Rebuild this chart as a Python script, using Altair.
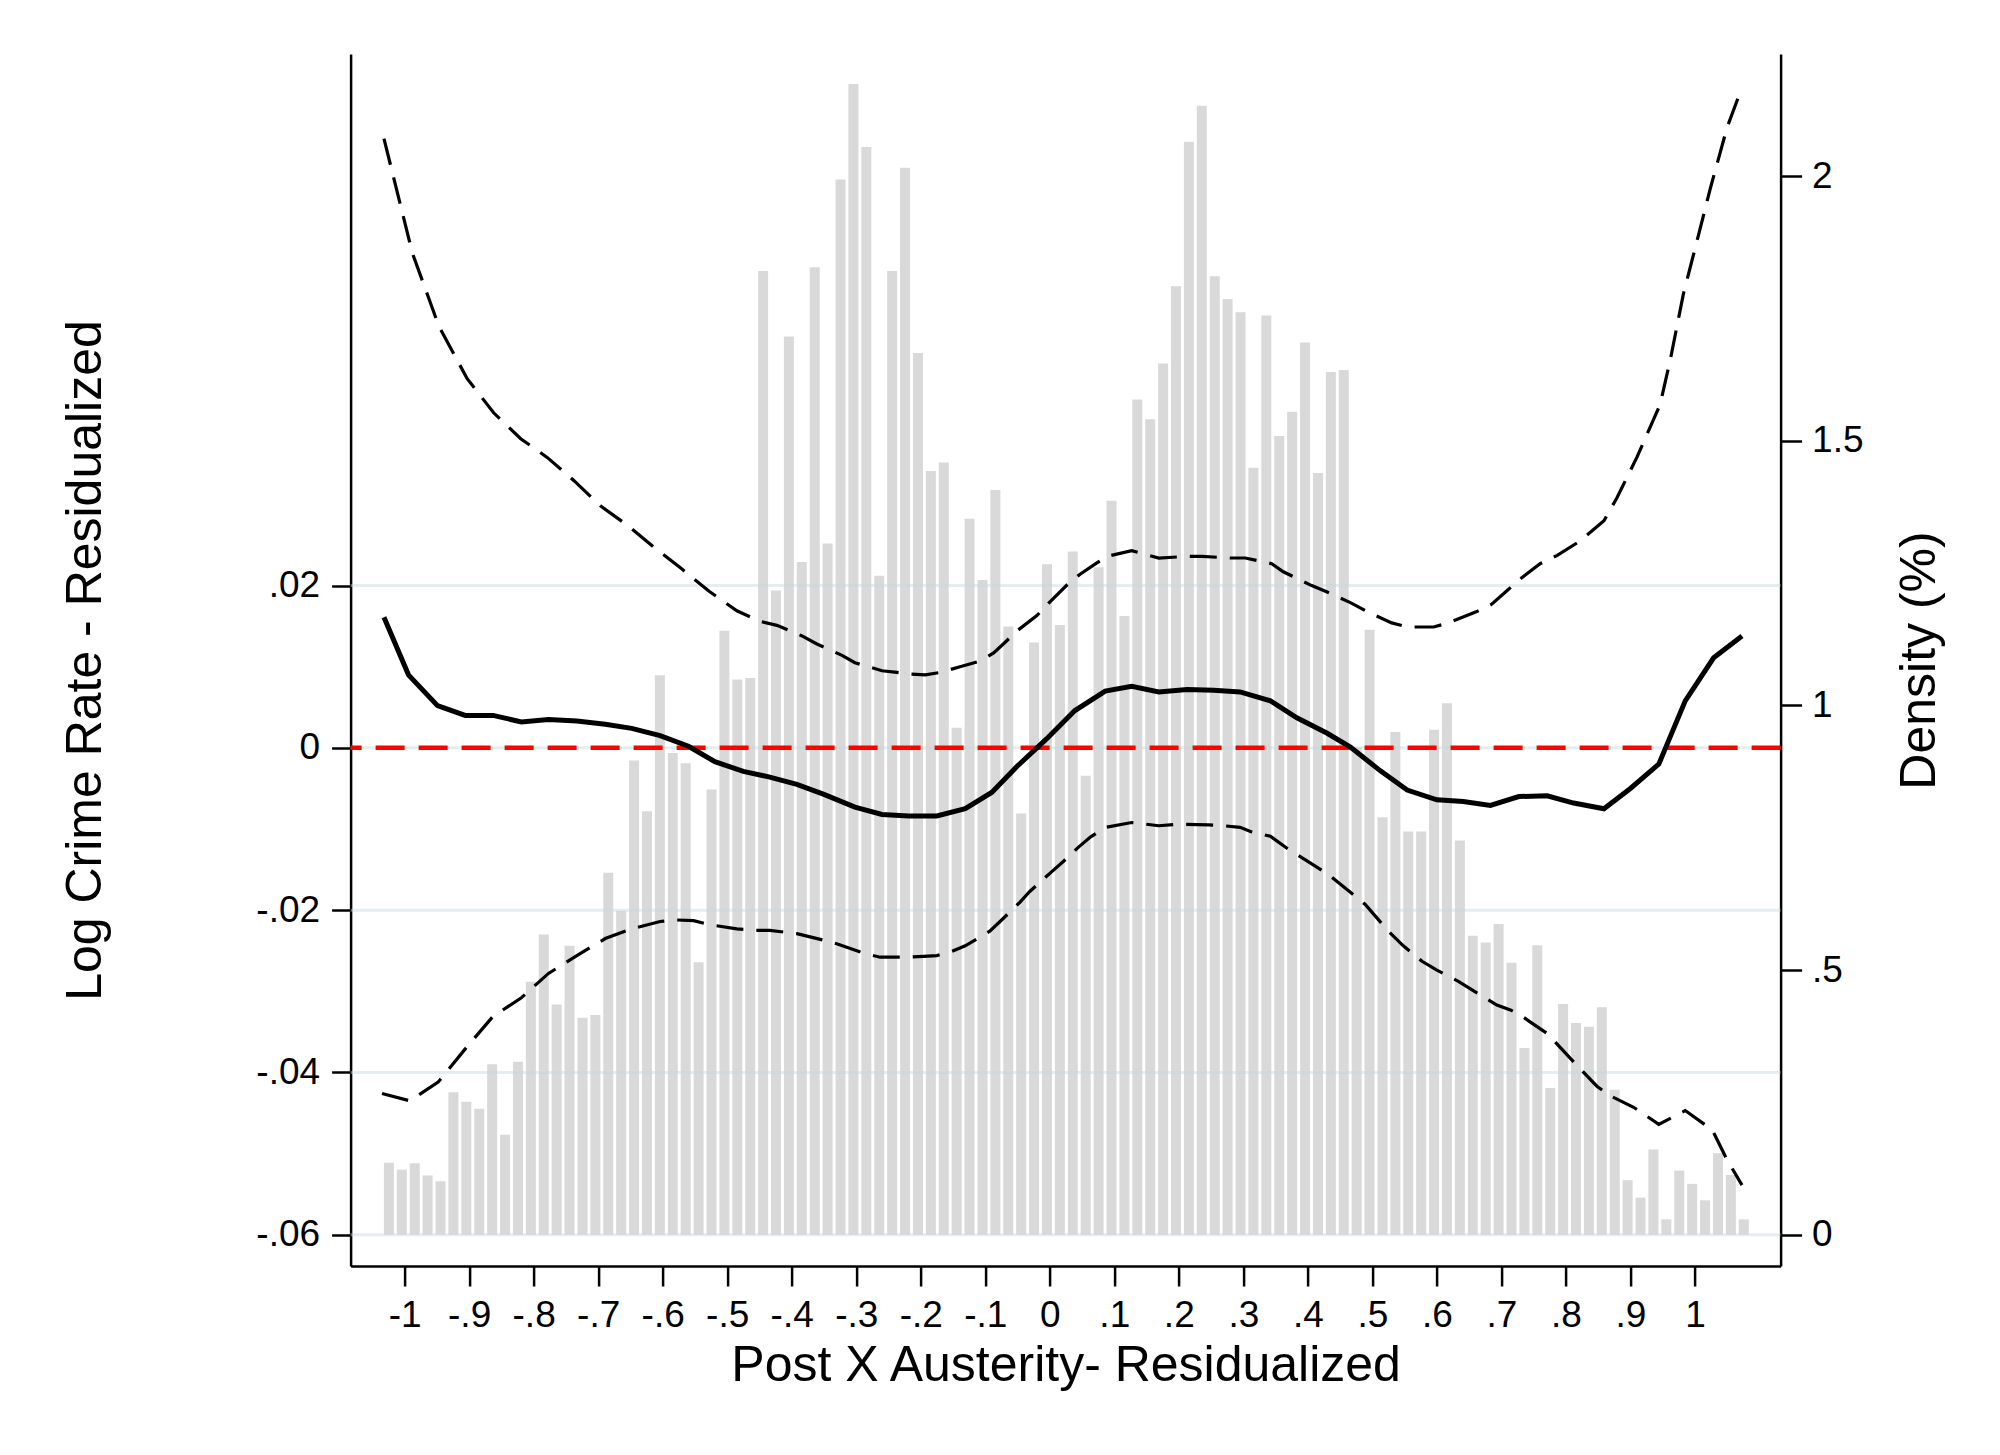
import altair as alt
import pandas as pd

# ---------------- data ----------------
# histogram (right axis, density in %), bins of width 0.02
BAR_DENSITY = [
    0.136, 0.123, 0.135, 0.112, 0.101, 0.269, 0.251, 0.238, 0.322, 0.189,
    0.327, 0.478, 0.567, 0.435, 0.546, 0.410, 0.415, 0.684, 0.612, 0.896,
    0.800, 1.057, 0.910, 0.891, 0.515, 0.841, 1.141, 1.049, 1.052, 1.821,
    1.217, 1.697, 1.271, 1.828, 1.306, 1.994, 2.174, 2.055, 1.245, 1.821,
    2.016, 1.666, 1.443, 1.459, 0.958, 1.353, 1.237, 1.407, 1.149, 0.796,
    1.119, 1.267, 1.152, 1.291, 0.867, 1.261, 1.387, 1.169, 1.578, 1.541,
    1.646, 1.792, 2.065, 2.133, 1.811, 1.768, 1.743, 1.449, 1.737, 1.509,
    1.555, 1.686, 1.439, 1.630, 1.634, 0.921, 1.143, 0.789, 0.950, 0.762,
    0.762, 0.954, 1.004, 0.745, 0.565, 0.552, 0.587, 0.514, 0.353, 0.547,
    0.277, 0.436, 0.400, 0.393, 0.430, 0.274, 0.103, 0.070, 0.161, 0.029,
    0.121, 0.096, 0.065, 0.154, 0.113, 0.029,
]
BIN_FIRST_CENTER = -1.0243
BIN_WIDTH = 0.02

# fitted line (left axis)
FIT_X = [-1.032, -0.994, -0.949, -0.906, -0.863, -0.819, -0.777, -0.733, -0.689, -0.648,
         -0.604, -0.560, -0.519, -0.475, -0.434, -0.392, -0.351, -0.302, -0.260, -0.219,
         -0.175, -0.131, -0.090, -0.051, -0.005, 0.039, 0.086, 0.127, 0.169, 0.213,
         0.254, 0.295, 0.342, 0.383, 0.430, 0.466, 0.512, 0.554, 0.600, 0.641,
         0.683, 0.727, 0.771, 0.812, 0.859, 0.900, 0.944, 0.985, 1.029, 1.073]
FIT_Y = [0.0161, 0.0090, 0.0052, 0.0040, 0.0040, 0.0032, 0.0035, 0.0033, 0.0029, 0.0024,
         0.0015, 0.0002, -0.0017, -0.0029, -0.0036, -0.0045, -0.0057, -0.0073, -0.0082, -0.0084,
         -0.0084, -0.0075, -0.0055, -0.0023, 0.0011, 0.0046, 0.0070, 0.0076, 0.0069, 0.0072,
         0.0071, 0.0069, 0.0058, 0.0037, 0.0018, 0.0001, -0.0028, -0.0052, -0.0064, -0.0066,
         -0.0071, -0.0060, -0.0059, -0.0068, -0.0075, -0.0050, -0.0020, 0.0058, 0.0111, 0.0138]

# upper confidence band
UPPER_X = [-1.032, -0.988, -0.947, -0.903, -0.862, -0.820, -0.779, -0.737, -0.696, -0.654,
           -0.613, -0.571, -0.528, -0.485, -0.449, -0.423, -0.384, -0.361, -0.322, -0.302,
           -0.260, -0.237, -0.216, -0.193, -0.170, -0.139, -0.108, -0.087, -0.072, -0.051,
           -0.020, -0.002, 0.027, 0.047, 0.073, 0.089, 0.127, 0.169, 0.213, 0.236,
           0.280, 0.303, 0.344, 0.362, 0.406, 0.430, 0.466, 0.492, 0.530, 0.554,
           0.595, 0.618, 0.662, 0.685, 0.709, 0.729, 0.760, 0.786, 0.822, 0.859,
           0.879, 0.910, 0.946, 0.962, 0.982, 1.003, 1.024, 1.050, 1.073]
UPPER_Y = [0.0751, 0.0610, 0.0520, 0.0455, 0.0413, 0.0381, 0.0358, 0.0329, 0.0298, 0.0274,
           0.0247, 0.0221, 0.0193, 0.0169, 0.0156, 0.0151, 0.0138, 0.0128, 0.0114, 0.0105,
           0.0095, 0.0093, 0.0091, 0.0090, 0.0093, 0.0100, 0.0107, 0.0117, 0.0128, 0.0144,
           0.0163, 0.0178, 0.0201, 0.0214, 0.0228, 0.0236, 0.0243, 0.0234, 0.0236, 0.0236,
           0.0234, 0.0234, 0.0227, 0.0217, 0.0200, 0.0192, 0.0179, 0.0168, 0.0154, 0.0149,
           0.0149, 0.0154, 0.0168, 0.0177, 0.0194, 0.0208, 0.0227, 0.0237, 0.0255, 0.0280,
           0.0308, 0.0358, 0.0423, 0.0479, 0.0559, 0.0624, 0.0690, 0.0765, 0.0814]

# lower confidence band
LOWER_X = [-1.035, -0.992, -0.948, -0.906, -0.863, -0.819, -0.777, -0.733, -0.689, -0.648,
           -0.604, -0.581, -0.552, -0.527, -0.485, -0.459, -0.434, -0.392, -0.351, -0.328,
           -0.289, -0.263, -0.222, -0.196, -0.175, -0.152, -0.131, -0.093, -0.077, -0.046,
           -0.031, 0.001, 0.021, 0.045, 0.063, 0.086, 0.127, 0.169, 0.202, 0.246,
           0.269, 0.295, 0.311, 0.342, 0.370, 0.406, 0.430, 0.466, 0.489, 0.525,
           0.548, 0.577, 0.600, 0.634, 0.662, 0.693, 0.714, 0.729, 0.745, 0.771,
           0.812, 0.848, 0.869, 0.905, 0.944, 0.985, 1.027, 1.050, 1.073]
LOWER_Y = [-0.0426, -0.0435, -0.0412, -0.0371, -0.0331, -0.0308, -0.0278, -0.0256, -0.0235, -0.0223,
           -0.0214, -0.0212, -0.0213, -0.0218, -0.0223, -0.0225, -0.0225, -0.0229, -0.0237, -0.0242,
           -0.0253, -0.0258, -0.0258, -0.0257, -0.0256, -0.0251, -0.0244, -0.0226, -0.0214, -0.0190,
           -0.0177, -0.0154, -0.0140, -0.0122, -0.0110, -0.0098, -0.0092, -0.0096, -0.0094, -0.0095,
           -0.0096, -0.0098, -0.0103, -0.0109, -0.0125, -0.0143, -0.0155, -0.0178, -0.0193, -0.0226,
           -0.0244, -0.0263, -0.0274, -0.0288, -0.0302, -0.0317, -0.0323, -0.0329, -0.0338, -0.0352,
           -0.0387, -0.0417, -0.0429, -0.0443, -0.0464, -0.0447, -0.0471, -0.0508, -0.0539]

REF_LINE = [0.0]

# axes
X_TICKS = [-1, -0.9, -0.8, -0.7, -0.6, -0.5, -0.4, -0.3, -0.2, -0.1, 0,
           0.1, 0.2, 0.3, 0.4, 0.5, 0.6, 0.7, 0.8, 0.9, 1]
X_TICK_LABELS = ["-1", "-.9", "-.8", "-.7", "-.6", "-.5", "-.4", "-.3", "-.2", "-.1", "0",
                 ".1", ".2", ".3", ".4", ".5", ".6", ".7", ".8", ".9", "1"]
LEFT_TICKS = [-0.06, -0.04, -0.02, 0, 0.02]
LEFT_TICK_LABELS = ["-.06", "-.04", "-.02", "0", ".02"]
RIGHT_TICKS = [0, 0.5, 1, 1.5, 2]
RIGHT_TICK_LABELS = ["0", ".5", "1", "1.5", "2"]

X_TITLE = "Post X Austerity- Residualized"
LEFT_TITLE = "Log Crime Rate - Residualized"
RIGHT_TITLE = "Density (%)"

X_DOMAIN = [-1.0837, 1.1328]
LEFT_DOMAIN = [-0.06386, 0.08552]
RIGHT_DOMAIN = [-0.05913, 2.2309]

# ---------------- build tables ----------------
assert len(FIT_X) == len(FIT_Y)
assert len(UPPER_X) == len(UPPER_Y)
assert len(LOWER_X) == len(LOWER_Y)

BAR_HALF = 0.00775
centers = [BIN_FIRST_CENTER + i * BIN_WIDTH for i in range(len(BAR_DENSITY))]
bars_df = pd.DataFrame({
    "x0": [c - BAR_HALF for c in centers],
    "x1": [c + BAR_HALF for c in centers],
    "density": BAR_DENSITY,
})
fit_df = pd.DataFrame({"x": FIT_X, "y": FIT_Y})
up_df = pd.DataFrame({"x": UPPER_X, "y": UPPER_Y})
lo_df = pd.DataFrame({"x": LOWER_X, "y": LOWER_Y})
grid_df = pd.DataFrame({"y": LEFT_TICKS})
ref_df = pd.DataFrame({"y": REF_LINE})

FONT = "Liberation Sans"
W, H = 1430, 1212


def label_expr(values, labels):
    parts = [f"abs(datum.value - ({v})) < 1e-9 ? '{l}'" for v, l in zip(values, labels)]
    return " : ".join(parts) + " : ''"


common_axis = dict(
    labelFont=FONT, labelFontSize=37, labelColor="black",
    titleFont=FONT, titleFontSize=50, titleFontWeight="normal", titleColor="black",
    tickColor="black", tickWidth=2.5, domainColor="black", domainWidth=2.5,
    grid=False, labelOverlap=False, labelFlush=False, labelBound=False,
)

x_axis = alt.Axis(
    values=X_TICKS, labelExpr=label_expr(X_TICKS, X_TICK_LABELS),
    title=X_TITLE, tickSize=20, labelPadding=12,
    titleX=W / 2, titleY=115, titleAlign="center", titleBaseline="alphabetic",
    **common_axis,
)
left_axis = alt.Axis(
    orient="left", values=LEFT_TICKS, labelExpr=label_expr(LEFT_TICKS, LEFT_TICK_LABELS),
    title=LEFT_TITLE, tickSize=19, labelPadding=12,
    titleAngle=270, titleX=-250, titleY=606, titleAlign="center", titleBaseline="alphabetic",
    **common_axis,
)
right_axis = alt.Axis(
    orient="right", values=RIGHT_TICKS, labelExpr=label_expr(RIGHT_TICKS, RIGHT_TICK_LABELS),
    title=RIGHT_TITLE, tickSize=21, labelPadding=10,
    titleAngle=270, titleX=154, titleY=606, titleAlign="center", titleBaseline="alphabetic",
    **common_axis,
)

xscale = alt.Scale(domain=X_DOMAIN, nice=False, zero=False)
lscale = alt.Scale(domain=LEFT_DOMAIN, nice=False, zero=False)
rscale = alt.Scale(domain=RIGHT_DOMAIN, nice=False, zero=False)

bars = alt.Chart(bars_df).mark_bar(color="#d9d9d9", strokeWidth=0).encode(
    x=alt.X("x0:Q", scale=xscale, axis=x_axis),
    x2="x1:Q",
    y=alt.Y("density:Q", scale=rscale, axis=right_axis),
    y2=alt.datum(0),
)

grid = alt.Chart(grid_df).mark_rule(color="#c8d7dc", opacity=0.45, strokeWidth=3).encode(
    y=alt.Y("y:Q", scale=lscale, axis=left_axis),
)
ref = alt.Chart(ref_df).mark_rule(color="#ff0000", strokeWidth=4.5, strokeDash=[29, 14]).encode(
    y=alt.Y("y:Q", scale=lscale, axis=left_axis),
)


def line_layer(df, width, dash=None):
    kw = dict(color="black", strokeWidth=width, clip=True)
    if dash:
        kw["strokeDash"] = dash
    return alt.Chart(df).mark_line(**kw).encode(
        x=alt.X("x:Q", scale=xscale, axis=x_axis),
        y=alt.Y("y:Q", scale=lscale, axis=left_axis),
    )


upper = line_layer(up_df, 3.2, [27, 13])
lower = line_layer(lo_df, 3.2, [27, 13])
fit = line_layer(fit_df, 5)

inner = alt.layer(grid, ref, upper, lower, fit)

chart = alt.layer(bars, inner).resolve_scale(y="independent").properties(
    width=W, height=H,
    autosize=alt.AutoSizeParams(type="none"),
    padding={"left": 342.6, "top": 46, "right": 200, "bottom": 160},
    background="white",
).configure_view(stroke=None)

chart.save("out.html", embed_options={"renderer": "svg", "actions": False})
